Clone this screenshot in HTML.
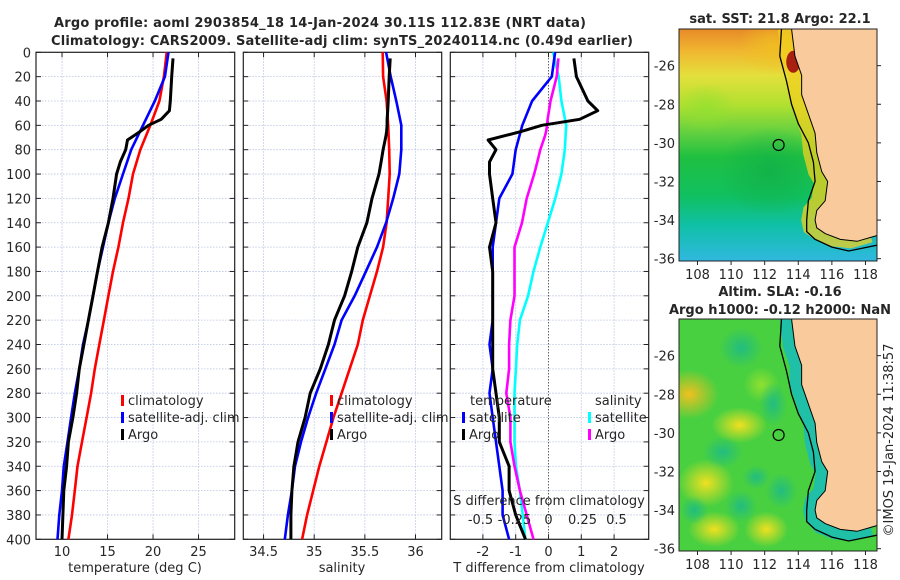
<!DOCTYPE html>
<html><head><meta charset="utf-8"><style>
html,body{margin:0;padding:0;background:#fff;}
svg{display:block;font-family:"DejaVu Sans","Liberation Sans",sans-serif;}
</style></head><body>
<svg id="fig" width="900" height="580" viewBox="0 0 900 580" xmlns="http://www.w3.org/2000/svg">
<defs>
<clipPath id="clipTop"><rect x="679" y="29" width="198" height="232"/></clipPath>
<clipPath id="clipBot"><rect x="679" y="319" width="198" height="232"/></clipPath>
<linearGradient id="sstGrad" x1="0" y1="0" x2="0" y2="1">
<stop offset="0" stop-color="#e88a28"/><stop offset="0.1" stop-color="#f0b830"/><stop offset="0.2" stop-color="#e4e03c"/>
<stop offset="0.33" stop-color="#b0e030"/><stop offset="0.45" stop-color="#60d040"/><stop offset="0.55" stop-color="#20c040"/>
<stop offset="0.72" stop-color="#10c060"/><stop offset="0.85" stop-color="#10c0a8"/><stop offset="1" stop-color="#30b8e0"/>
</linearGradient>
<radialGradient id="ylw"><stop offset="0" stop-color="#f0e020" stop-opacity="1"/><stop offset="1" stop-color="#f0e020" stop-opacity="0"/></radialGradient>
<radialGradient id="org"><stop offset="0" stop-color="#f0c020" stop-opacity="1"/><stop offset="1" stop-color="#f0c020" stop-opacity="0"/></radialGradient>
<radialGradient id="teal"><stop offset="0" stop-color="#18b890" stop-opacity="1"/><stop offset="1" stop-color="#18b890" stop-opacity="0"/></radialGradient>
<radialGradient id="lgrn"><stop offset="0" stop-color="#90e030" stop-opacity="1"/><stop offset="1" stop-color="#90e030" stop-opacity="0"/></radialGradient>
<radialGradient id="dgrn"><stop offset="0" stop-color="#10b048" stop-opacity="1"/><stop offset="1" stop-color="#10b048" stop-opacity="0"/></radialGradient>
</defs>
<g id="layer"></g>
</svg>
<script>
// ---- data ----
const climDepths = [0,20,40,60,80,100,120,140,160,180,200,220,240,260,280,300,320,340,360,380,400];
const climTemp = [21.5,21.2,20.7,19.7,18.6,17.8,17.3,16.7,16.2,15.6,15.1,14.6,14.1,13.6,13.2,12.7,12.2,11.7,11.4,11.1,10.7];
const satTemp = [21.7,21.3,20.2,18.9,17.6,16.7,15.8,15.1,14.5,13.9,13.4,12.9,12.3,11.9,11.4,11.0,10.6,10.2,10.0,9.7,9.5];
const climSal = [35.676,35.68,35.715,35.73,35.74,35.745,35.73,35.715,35.68,35.62,35.55,35.48,35.43,35.35,35.27,35.19,35.12,35.05,34.99,34.93,34.88];
const satSal = [35.71,35.755,35.81,35.86,35.86,35.84,35.78,35.71,35.62,35.51,35.40,35.27,35.20,35.11,35.02,34.94,34.87,34.81,34.78,34.74,34.71];
const argoDepths = [5,20,40,48,55,60,65,68,72,80,90,100,120,140,160,180,200,220,240,260,280,300,320,340,360,380,400];
const argoTemp = [22.2,22.05,21.9,21.8,20.9,19.5,18.6,18.0,17.2,17.0,16.4,16.0,15.6,15.1,14.4,13.9,13.4,12.9,12.4,11.9,11.6,11.2,10.7,10.5,10.2,10.1,10.0];
const argoSal = [35.75,35.74,35.73,35.725,35.72,35.72,35.715,35.71,35.70,35.68,35.66,35.64,35.57,35.52,35.43,35.37,35.30,35.20,35.14,35.06,34.96,34.91,34.84,34.80,34.78,34.77,34.77];
const depthTicks = [0,20,40,60,80,100,120,140,160,180,200,220,240,260,280,300,320,340,360,380,400];
const tempTicks = [10,15,20,25];
const salTicks = [34.5,35,35.5,36];
const tdiffTicks = [-2,-1,0,1,2];
const sdiffTicks = [-0.5,-0.25,0,0.25,0.5];
const sdiffLabels = ["-0.5","-0.25","0","0.25","0.5"];
const latTicks = [-26,-28,-30,-32,-34,-36];
const lonTicks = [108,110,112,114,116,118];
const argoPos = [112.83,-30.11];

const NS="http://www.w3.org/2000/svg";
const L=document.getElementById('layer');
function mk(tag,attrs,parent){const e=document.createElementNS(NS,tag);for(const k in attrs)e.setAttribute(k,attrs[k]);(parent||L).appendChild(e);return e;}
function txt(s,x,y,size,anchor,weight,parent){const e=mk('text',{x:x,y:y,'font-size':size,'text-anchor':anchor||'middle','font-weight':weight||'normal',fill:'#262626'},parent);e.textContent=s;return e;}

// ---- scales ----
const Y0=52.3,Y1=539.3;
const yD=d=>Y0+d*(Y1-Y0)/400;
const xT=v=>36+(v-7.14)*9.1;
const xS=v=>243.3+(v-34.30)*101.3;
const xDT=v=>548.5+v*32.8;
const xDS=v=>548.5+v*136;
function interp(xs,ys,x){for(let i=0;i<xs.length-1;i++){if(x<=xs[i+1]){const t=(x-xs[i])/(xs[i+1]-xs[i]);return ys[i]+t*(ys[i+1]-ys[i]);}}return ys[ys.length-1];}

const panels=[{x0:36,x1:234.7,name:'temperature-panel',ticks:tempTicks,sc:xT},{x0:243.3,x1:441.7,name:'salinity-panel',ticks:salTicks,sc:xS},{x0:450.3,x1:648.7,name:'difference-panel',ticks:tdiffTicks,sc:xDT}];
panels.forEach((p,pi)=>{
  const g=mk('g',{});
  
  
  depthTicks.forEach(d=>{
    const gl=mk('line',{x1:p.x0,x2:p.x1,y1:yD(d),y2:yD(d),stroke:'#b8c2e0','stroke-width':0.8,'stroke-dasharray':'1.5,1.5'},g);
    
    
    mk('line',{x1:p.x0,x2:p.x0+5,y1:yD(d),y2:yD(d),stroke:'#222','stroke-width':1},g);
    mk('line',{x1:p.x1-5,x2:p.x1,y1:yD(d),y2:yD(d),stroke:'#222','stroke-width':1},g);
    if(pi===0){const t=txt(String(d),31,yD(d)+5,13,'end');}
  });
  p.ticks.forEach(v=>{
    const x=p.sc(v);
    const gl=mk('line',{x1:x,x2:x,y1:Y0,y2:Y1,stroke:'#b8c2e0','stroke-width':0.8,'stroke-dasharray':'1.5,1.5'},g);
    
    
    mk('line',{x1:x,x2:x,y1:Y1-5,y2:Y1,stroke:'#222','stroke-width':1},g);
    mk('line',{x1:x,x2:x,y1:Y0,y2:Y0+5,stroke:'#222','stroke-width':1},g);
    const t=txt(String(v),x,556,13,'middle');
    
    
  });
  const fr=mk('rect',{x:p.x0,y:Y0,width:p.x1-p.x0,height:Y1-Y0,fill:'none',stroke:'#222','stroke-width':1.2},g);
  
  
});
// zero line
const zl=mk('line',{x1:xDT(0),x2:xDT(0),y1:Y0,y2:Y1,stroke:'#333','stroke-width':1,'stroke-dasharray':'1,2'});



function line(xs,ds,sx,color,name,w){
  const pts=xs.map((v,i)=>sx(v).toFixed(1)+','+yD(ds[i]).toFixed(1)).join(' ');
  const e=mk('polyline',{points:pts,fill:'none',stroke:color,'stroke-width':w||2.6,'stroke-linejoin':'round'});
  
  
}
line(climTemp,climDepths,xT,'#ff0000','temp-climatology-line');
line(satTemp,climDepths,xT,'#0000ff','temp-satellite-line');
line(argoTemp,argoDepths,xT,'#000000','temp-argo-line',3);
line(climSal,climDepths,xS,'#ff0000','sal-climatology-line');
line(satSal,climDepths,xS,'#0000ff','sal-satellite-line');
line(argoSal,argoDepths,xS,'#000000','sal-argo-line',3);
const satSdiff=satSal.map((v,i)=>v-climSal[i]);
const argoSdiff=argoSal.map((v,i)=>v-interp(climDepths,climSal,argoDepths[i]));
const satTdiff=satTemp.map((v,i)=>v-climTemp[i]);
const argoTdiff=argoTemp.map((v,i)=>v-interp(climDepths,climTemp,argoDepths[i]));
line(satSdiff,climDepths,xDS,'#00ffff','sdiff-satellite-line');
line(argoSdiff,argoDepths,xDS,'#ff00ff','sdiff-argo-line');
line(satTdiff,climDepths,xDT,'#0000ff','tdiff-satellite-line');
line(argoTdiff,argoDepths,xDT,'#000000','tdiff-argo-line',3);

// legends
function leg(x,y,color,label){
  const b=mk('rect',{x:x,y:y-10,width:3,height:11,fill:color});
  
  
  const t=txt(label,x+7,y,13,'start');
  
  
}
leg(121,405,'#ff0000','climatology');leg(121,422,'#0000ff','satellite-adj. clim');leg(121,439,'#000000','Argo');
leg(330,405,'#ff0000','climatology');leg(330,422,'#0000ff','satellite-adj. clim');leg(330,439,'#000000','Argo');
let t1=txt('temperature',470,405,13,'start');
let t2=txt('salinity',595,405,13,'start');
leg(462,422,'#0000ff','satellite');leg(462,439,'#000000','Argo');
leg(588,422,'#00ffff','satellite');leg(588,439,'#ff00ff','Argo');

// S diff axis labels
sdiffTicks.forEach((v,i)=>{const t=txt(sdiffLabels[i],xDS(v),524,13,'middle');});
let sa=txt('S difference from climatology',549,505,13,'middle');
let xa1=txt('temperature (deg C)',135,572,13,'middle');
let xa2=txt('salinity',342,572,13,'middle');
let xa3=txt('T difference from climatology',549,572,13,'middle');
let ti1=txt('Argo profile: aoml 2903854_18 14-Jan-2024 30.11S 112.83E (NRT data)',320,27,13,'middle','bold');ti1.setAttribute('textLength','532');
let ti2=txt('Climatology: CARS2009. Satellite-adj clim: synTS_20240114.nc (0.49d earlier)',342,45,13,'middle','bold');ti2.setAttribute('textLength','582');

// ---- maps ----
const lonX=lon=>679+(lon-106.9)*16.8;
const coastLon=[113.6,113.8,114.2,114.2,114.6,115.0,115.1,115.4,115.75,115.6,115.1,115.0,115.1,115.6,116.5,117.5,118.7];
const coastLat=[-24.1,-25.5,-26.5,-27.5,-28.5,-29.5,-30.5,-31.5,-32.0,-33.0,-33.5,-34.0,-34.4,-34.7,-35.0,-35.1,-34.8];
const isoLon=[113.0,112.9,113.3,113.6,114.0,114.6,114.9,115.0,114.6,114.5,114.5,115.0,116.0,117.0,118.7];
const isoLat=[-24.1,-25.5,-26.8,-28.0,-29.0,-30.0,-31.0,-32.0,-33.0,-34.0,-34.6,-35.0,-35.4,-35.6,-35.3];
function drawMap(top,clip,name,kind){
  const latY=lat=>top+(-24.1-lat)*19.3;
  const g=mk('g',{'clip-path':'url(#'+clip+')'});
  
  
  if(kind==='sst'){
    mk('rect',{x:679,y:top,width:198,height:232,fill:'url(#sstGrad)'},g);
    mk('ellipse',{cx:lonX(108.5),cy:latY(-28.2),rx:30,ry:25,fill:'url(#lgrn)',opacity:0.7},g);
    mk('ellipse',{cx:lonX(112.3),cy:latY(-31.5),rx:50,ry:45,fill:'url(#dgrn)',opacity:0.8},g);
    mk('ellipse',{cx:lonX(112.5),cy:latY(-25),rx:35,ry:30,fill:'url(#org)',opacity:0.8},g);
    mk('polyline',{points:coastLon.map((v,i)=>lonX(v-0.4)+','+latY(coastLat[i])).join(' '),fill:'none',stroke:'#f0d020','stroke-width':14,opacity:0.75},g);
    mk('ellipse',{cx:lonX(113.7),cy:latY(-25.8),rx:7,ry:11,fill:'#a82010'},g);
  } else {
    mk('rect',{x:679,y:top,width:198,height:232,fill:'#48d040'},g);
    const yb=[[107.5,-28,30,25,'org'],[110.5,-29.6,28,18,'ylw'],[108.5,-32.6,28,24,'ylw'],[109,-35,26,18,'ylw'],[112.1,-35,22,18,'ylw'],[111.8,-27.5,18,18,'lgrn']];
    yb.forEach(b=>mk('ellipse',{cx:lonX(b[0]),cy:latY(b[1]),rx:b[2],ry:b[3],fill:'url(#'+b[4]+')'},g));
    const tb=[[110.6,-25.6,22,20],[109.5,-31,20,16],[110.6,-33.8,16,16],[107.8,-34,14,14],[113,-33,16,18],[111.5,-32.3,14,12],[112.5,-28.5,14,22]];
    tb.forEach(b=>mk('ellipse',{cx:lonX(b[0]),cy:latY(b[1]),rx:b[2],ry:b[3],fill:'url(#teal)',opacity:0.8},g));
    mk('polyline',{points:coastLon.map((v,i)=>lonX(v-0.35)+','+latY(coastLat[i]+ (i>12?-0.2:0))).join(' '),fill:'none',stroke:'#20c0a8','stroke-width':12},g);
  }
  const land=coastLon.map((v,i)=>lonX(v)+','+latY(coastLat[i])).join(' ')+' '+lonX(119)+','+latY(-34.8)+' '+lonX(119)+','+latY(-24)+' '+lonX(113.6)+','+latY(-24);
  const ld=mk('polygon',{points:land,fill:'#f9cb9c',stroke:'#000','stroke-width':1},g);
  
  
  const iso=mk('polyline',{points:isoLon.map((v,i)=>lonX(v)+','+latY(isoLat[i])).join(' '),fill:'none',stroke:'#000','stroke-width':1.3},g);
  
  
  const c=mk('circle',{cx:lonX(argoPos[0]),cy:latY(argoPos[1]),r:5.5,fill:'none',stroke:'#000','stroke-width':1.2});
  
  
  const fr=mk('rect',{x:679,y:top,width:198,height:232,fill:'none',stroke:'#222','stroke-width':1});
  
  
  latTicks.forEach(v=>{
    mk('line',{x1:877,x2:881,y1:latY(v),y2:latY(v),stroke:'#222'});
    const t=txt(String(v),675,latY(v)+5,13,'end');
    
    
  });
  lonTicks.forEach(v=>{
    mk('line',{x1:lonX(v),x2:lonX(v),y1:top+232,y2:top+236,stroke:'#222'});
    const t=txt(String(v),lonX(v),top+250,13,'middle');
    
    
  });
}
drawMap(29,'clipTop','sst-map','sst');
drawMap(319,'clipBot','sla-map','sla');
let m1=txt('sat. SST: 21.8 Argo: 22.1',780,23,13,'middle','bold');
let m2=txt('Altim. SLA: -0.16',780,296,13,'middle','bold');
let m3=txt('Argo h1000: -0.12 h2000: NaN',780,314,13,'middle','bold');
let cp=txt('©IMOS 19-Jan-2024 11:38:57',0,0,13,'middle');cp.setAttribute('transform','translate(893,440) rotate(-90)');
</script>
</body></html>
